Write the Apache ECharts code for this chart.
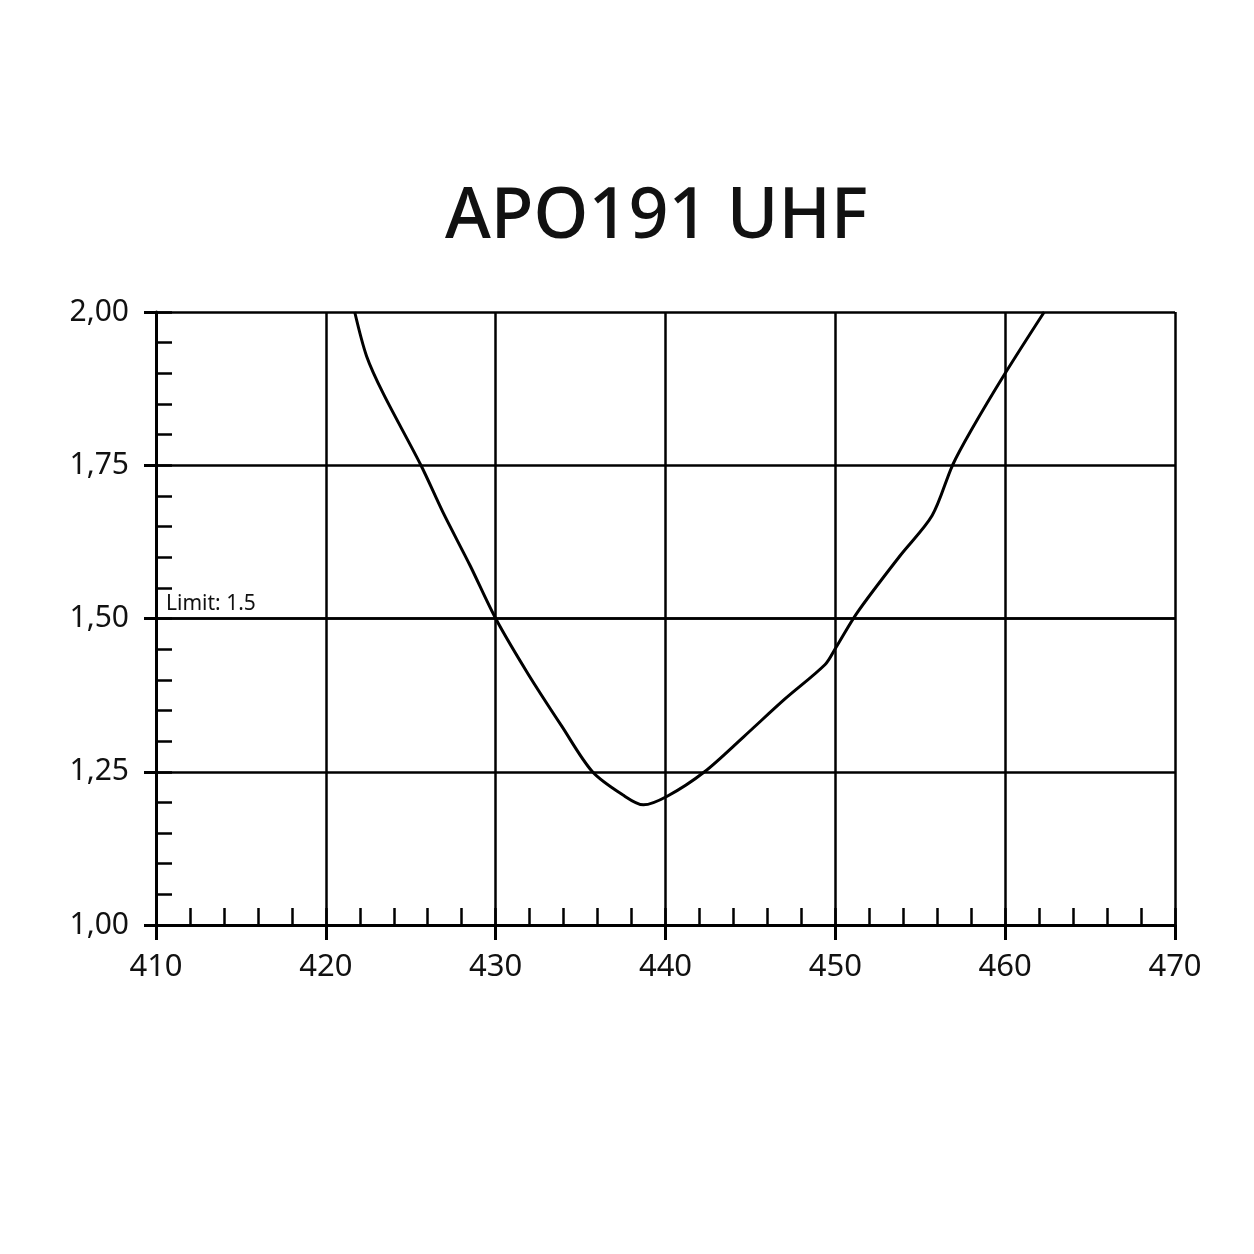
<!DOCTYPE html>
<html>
<head>
<meta charset="utf-8">
<script src="https://cdn.jsdelivr.net/npm/echarts@6/dist/echarts.min.js"></script>
<style>html,body{margin:0;padding:0;background:#fff}#c{width:1254px;height:1254px}</style>
</head>
<body>
<div id="c"></div>
<script>
var chartTitle = 'APO191 UHF';
var freqMHz = [421.7, 422.4, 423.4, 425.6, 426.9, 428.5, 430.0, 431.9, 433.9, 435.7, 437.5, 438.7, 440.1, 442.3, 444.6, 447.0, 449.4, 450.0, 451.3, 453.8, 455.7, 456.9, 458.0, 460.0, 462.3];
var vswr    = [2.00, 1.928, 1.866, 1.75, 1.673, 1.586, 1.50, 1.41, 1.324, 1.25, 1.212, 1.196, 1.21, 1.25, 1.307, 1.368, 1.425, 1.451, 1.51, 1.602, 1.668, 1.75, 1.807, 1.90, 2.00];
var limitValue = 1.5;
var limitLabel = 'Limit: 1.5';

var chart = echarts.init(document.getElementById('c'));
var font = 'Noto Sans';
var data = freqMHz.map(function (f, i) { return [f, vswr[i]]; });

chart.setOption({
  backgroundColor: '#ffffff',
  animation: false,
  title: {
    text: chartTitle,
    left: 440,
    top: 178,
    textStyle: { fontFamily: font, fontSize: 70, fontWeight: 500, color: '#111' }
  },
  grid: { left: 156, right: 79, top: 312, bottom: 329, containLabel: false },
  xAxis: [{
    type: 'value', position: 'bottom', min: 410, max: 470, interval: 10,
    axisLine: { lineStyle: { color: '#000', width: 3 } },
    axisTick: { show: true, inside: false, length: 15, lineStyle: { color: '#000', width: 3 } },
    axisLabel: { fontFamily: font, fontSize: 31, color: '#111', margin: 27 },
    splitLine: { show: true, lineStyle: { color: '#000', width: 2.5 } }
  }, {
    type: 'value', position: 'bottom', offset: 0, min: 410, max: 470, interval: 2,
    axisLine: { show: false },
    axisTick: { show: true, inside: true, length: 17, lineStyle: { color: '#000', width: 2.5 } },
    axisLabel: { show: false },
    splitLine: { show: false }
  }],
  yAxis: [{
    type: 'value', position: 'left', min: 1, max: 2, interval: 0.25,
    axisLine: { show: true, lineStyle: { color: '#000', width: 3 } },
    axisTick: { show: true, inside: false, length: 12, lineStyle: { color: '#000', width: 3 } },
    axisLabel: { fontFamily: font, fontSize: 30, color: '#111', margin: 27,
      formatter: function (v) { return v.toFixed(2).replace('.', ','); } },
    splitLine: { show: true, lineStyle: { color: '#000', width: 2.5 } }
  }, {
    type: 'value', position: 'left', offset: 0, min: 1, max: 2, interval: 0.05,
    axisLine: { show: false },
    axisTick: { show: true, inside: true, length: 16, lineStyle: { color: '#000', width: 2.5 } },
    axisLabel: { show: false },
    splitLine: { show: false }
  }],
  series: [{
    type: 'line',
    xAxisIndex: 0, yAxisIndex: 0,
    data: data,
    smooth: 0.3,
    showSymbol: false,
    lineStyle: { color: '#000', width: 3 },
    markLine: {
      silent: true,
      symbol: 'none',
      lineStyle: { color: '#000', width: 2.5, type: 'solid' },
      label: {
        show: true, position: 'insideStartTop', formatter: limitLabel,
        fontFamily: font, fontSize: 21, color: '#111', distance: [10, 4]
      },
      data: [{ yAxis: limitValue }]
    }
  }]
});
</script>
</body>
</html>
